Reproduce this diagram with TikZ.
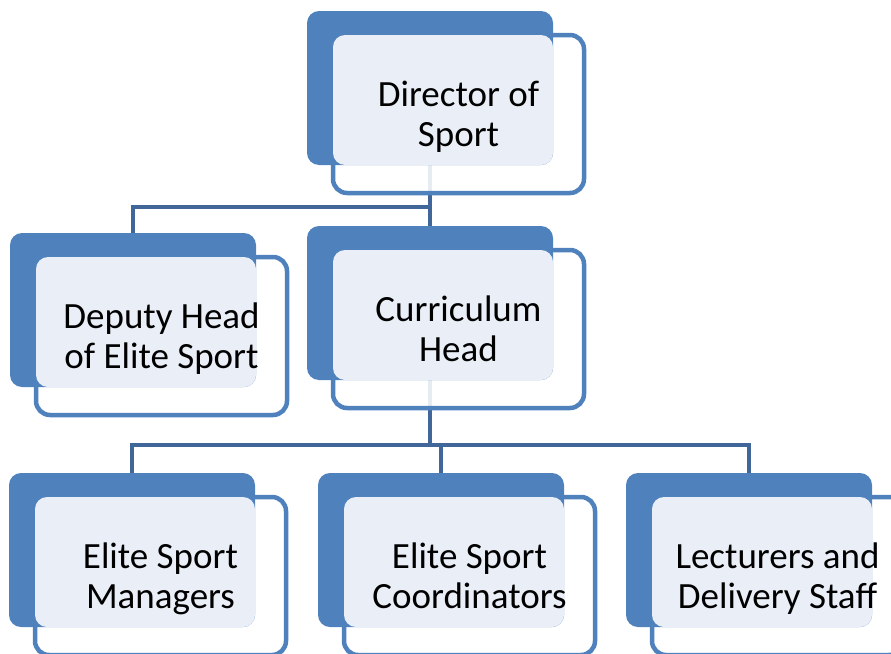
\documentclass[tikz,border=0pt]{standalone}
\usepackage{fontspec}
\setmainfont{Carlito}
\definecolor{dark}{HTML}{4F81BD}
\definecolor{lightf}{HTML}{EAEFF7}
\definecolor{conn}{HTML}{41679A}
\pgfdeclarelayer{background}
\pgfsetlayers{background,main}
\newcommand\orgunit[4]{%
  \node[frontbox] (#1) at (#2+26,#3+24) {};
  \node[backbox] (#1B) at (#2,#3) {};
  \fill[overlap] (#1.north west) rectangle (#1B.south east);
  \node[lbl] (#1T) at ([yshift=-3pt]#1.center) {#4\vphantom{p}};
}
\begin{document}
\begin{tikzpicture}[x=1pt,y=-1pt,
  backbox/.style={fill=dark, draw=none, rounded corners=12pt, minimum width=246pt, minimum height=154pt, anchor=north west, inner sep=0pt, outer sep=0pt},
  frontbox/.style={draw=dark, line width=4.5pt, fill=white, fill opacity=0.88, rounded corners=14pt, minimum width=251pt, minimum height=158pt, anchor=north west, inner sep=0pt, outer sep=0pt},
  overlap/.style={fill=lightf, rounded corners=12pt},
  lbl/.style={align=center, font=\fontsize{37}{40}\selectfont, text=black, inner sep=0pt},
  link/.style={draw=conn, line width=4.5pt}]
\useasboundingbox (0,0) rectangle (891,653);
\clip (0,0) rectangle (891,653);

\orgunit{dir}{307}{11}{Director of\\Sport}
\orgunit{dep}{10}{233}{Deputy Head\\of Elite Sport}
\orgunit{cur}{307}{226}{Curriculum\\Head}
\orgunit{man}{9}{473}{Elite Sport\\Managers}
\orgunit{crd}{318}{473}{Elite Sport\\Coordinators}
\orgunit{lec}{626}{473}{Lecturers and\\Delivery Staff}

\begin{pgfonlayer}{background}
\draw[link] (dirB.south) -- ++(0,42) coordinate (j1) -| (depB.north);
\draw[link] (j1) -- (curB.north);
\draw[link] (curB.south) -- ++(0,65) coordinate (j2) -| (manB.north);
\draw[link] (j2) -| (crdB.north);
\draw[link] (j2) -| (lecB.north);
\end{pgfonlayer}
\end{tikzpicture}
\end{document}
